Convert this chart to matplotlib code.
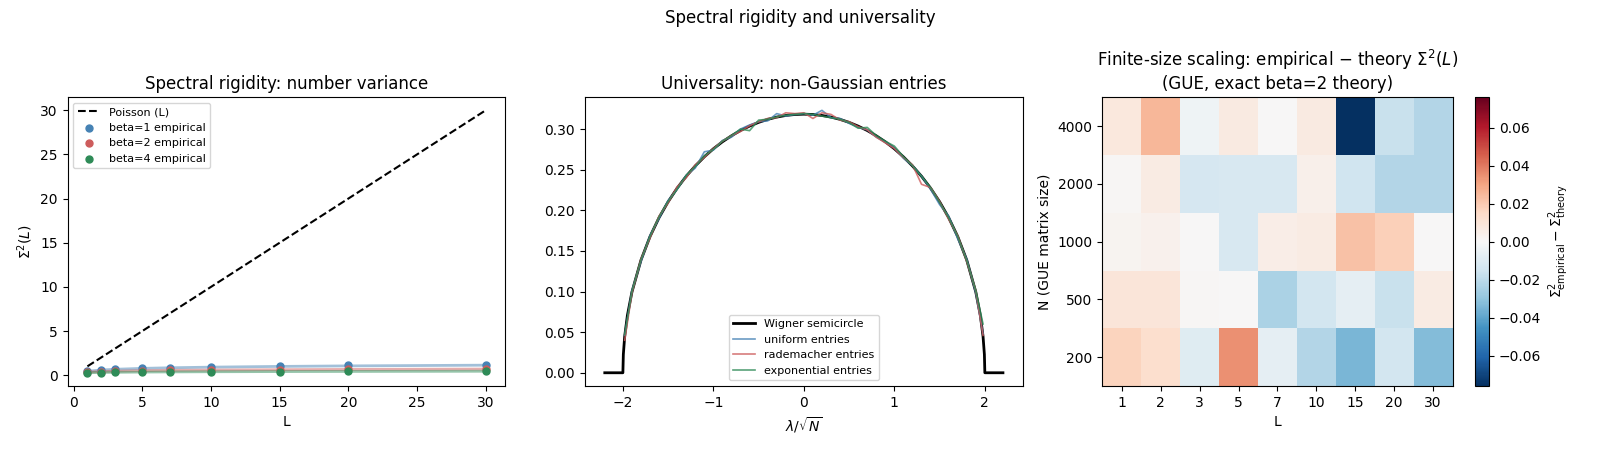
import matplotlib.pyplot as plt
import numpy as np

# ---- panel 1: number variance ----
L_vals = [1, 2, 3, 5, 7, 10, 15, 20, 30]
poisson = [1, 2, 3, 5, 7, 10, 15, 20, 30]
theory_b1 = [0.442, 0.582, 0.665, 0.768, 0.836, 0.908, 0.991, 1.049, 1.131]
theory_b2 = [0.346, 0.416, 0.457, 0.509, 0.543, 0.579, 0.620, 0.649, 0.691]
theory_b4 = [0.271, 0.306, 0.326, 0.352, 0.369, 0.387, 0.408, 0.422, 0.443]
emp_b1 = [0.50, 0.55, 0.66, 0.78, 0.86, 0.96, 1.00, 1.12, 1.20]
emp_b2 = [0.36, 0.40, 0.44, 0.52, 0.55, 0.57, 0.63, 0.66, 0.70]
emp_b4 = [0.28, 0.30, 0.33, 0.36, 0.37, 0.39, 0.40, 0.42, 0.45]

# ---- panel 2: densities ----
x_sc = [-2.2, -2.0, -1.995, -1.98, -1.95, -1.9, -1.8, -1.7, -1.6, -1.5, -1.4, -1.3,
        -1.2, -1.1, -1.0, -0.9, -0.8, -0.7, -0.6, -0.5, -0.4, -0.3, -0.2, -0.1, 0.0,
        0.1, 0.2, 0.3, 0.4, 0.5, 0.6, 0.7, 0.8, 0.9, 1.0, 1.1, 1.2, 1.3, 1.4, 1.5,
        1.6, 1.7, 1.8, 1.9, 1.95, 1.98, 1.995, 2.0, 2.2]
semicircle = [0.0, 0.0, 0.0225, 0.0449, 0.0707, 0.0994, 0.1387, 0.1677, 0.1910, 0.2105,
              0.2273, 0.2419, 0.2546, 0.2658, 0.2757, 0.2843, 0.2917, 0.2982, 0.3036,
              0.3082, 0.3119, 0.3147, 0.3167, 0.3179, 0.3183,
              0.3179, 0.3167, 0.3147, 0.3119, 0.3082, 0.3036, 0.2982, 0.2917, 0.2843,
              0.2757, 0.2658, 0.2546, 0.2419, 0.2273, 0.2105, 0.1910, 0.1677, 0.1387,
              0.0994, 0.0707, 0.0449, 0.0225, 0.0, 0.0]

x_emp = [-1.98, -1.9, -1.8, -1.7, -1.6, -1.5, -1.4, -1.3, -1.2, -1.1, -1.0, -0.9, -0.8,
         -0.7, -0.6, -0.5, -0.4, -0.3, -0.2, -0.1, 0.0, 0.1, 0.2, 0.3, 0.4, 0.5, 0.6,
         0.7, 0.8, 0.9, 1.0, 1.1, 1.2, 1.3, 1.4, 1.5, 1.6, 1.7, 1.8, 1.9, 1.98]
dens_uniform = [0.046, 0.101, 0.137, 0.169, 0.190, 0.212, 0.226, 0.243, 0.252, 0.272,
                0.274, 0.286, 0.290, 0.300, 0.305, 0.309, 0.310, 0.319, 0.316, 0.318,
                0.319, 0.317, 0.323, 0.314, 0.313, 0.307, 0.302, 0.299, 0.290, 0.284,
                0.277, 0.264, 0.255, 0.242, 0.226, 0.207, 0.193, 0.165, 0.140, 0.098, 0.048]
dens_rademacher = [0.040, 0.098, 0.140, 0.166, 0.193, 0.209, 0.229, 0.240, 0.256, 0.265,
                   0.276, 0.285, 0.292, 0.297, 0.304, 0.309, 0.313, 0.314, 0.320, 0.319,
                   0.320, 0.313, 0.320, 0.318, 0.311, 0.309, 0.303, 0.299, 0.290, 0.283,
                   0.276, 0.265, 0.256, 0.232, 0.228, 0.211, 0.189, 0.169, 0.137, 0.101, 0.046]
dens_exponential = [0.047, 0.100, 0.139, 0.168, 0.192, 0.211, 0.226, 0.243, 0.254, 0.267,
                    0.275, 0.285, 0.292, 0.300, 0.298, 0.311, 0.312, 0.315, 0.317, 0.318,
                    0.319, 0.318, 0.316, 0.314, 0.312, 0.308, 0.301, 0.302, 0.292, 0.285,
                    0.279, 0.266, 0.255, 0.242, 0.228, 0.210, 0.191, 0.168, 0.138, 0.101, 0.060]

# ---- panel 3: finite-size heatmap ----
N_vals = [200, 500, 1000, 2000, 4000]
diff_grid = [
    [0.017, 0.013, -0.009, 0.035, -0.007, -0.022, -0.035, -0.014, -0.033],   # 200
    [0.009, 0.009, 0.001, 0.000, -0.024, -0.014, -0.007, -0.017, 0.006],     # 500
    [0.002, 0.003, 0.000, -0.012, 0.005, 0.006, 0.022, 0.018, 0.000],        # 1000
    [0.001, 0.006, -0.013, -0.012, -0.012, 0.004, -0.015, -0.022, -0.022],   # 2000
    [0.008, 0.025, -0.003, 0.007, 0.000, 0.007, -0.076, -0.017, -0.022],     # 4000
]

c_blue = "#4682b4"
c_red = "#cd5c5c"
c_green = "#2e8b57"

fig, axes = plt.subplots(1, 3, figsize=(16, 4.5))
fig.suptitle("Spectral rigidity and universality")

ax = axes[0]
ax.plot(L_vals, poisson, "k--", label="Poisson (L)")
for th, emp, col, b in [(theory_b1, emp_b1, c_blue, 1),
                        (theory_b2, emp_b2, c_red, 2),
                        (theory_b4, emp_b4, c_green, 4)]:
    ax.plot(L_vals, th, color=col, lw=2, alpha=0.5)
    ax.scatter(L_vals, emp, color=col, s=25, zorder=3, label=f"beta={b} empirical")
ax.set_xlabel("L")
ax.set_ylabel(r"$\Sigma^2(L)$")
ax.set_title("Spectral rigidity: number variance")
ax.legend(fontsize=8, loc="upper left")

ax = axes[1]
ax.plot(x_sc, semicircle, "k-", lw=2, label="Wigner semicircle")
ax.plot(x_emp, dens_uniform, color=c_blue, lw=1.2, alpha=0.8, label="uniform entries")
ax.plot(x_emp, dens_rademacher, color=c_red, lw=1.2, alpha=0.8, label="rademacher entries")
ax.plot(x_emp, dens_exponential, color=c_green, lw=1.2, alpha=0.8, label="exponential entries")
ax.set_xlabel(r"$\lambda/\sqrt{N}$")
ax.set_title("Universality: non-Gaussian entries")
ax.legend(fontsize=8, loc="lower center")

ax = axes[2]
grid = np.array(diff_grid)
vmax = np.abs(grid).max()
im = ax.imshow(grid, origin="lower", aspect="auto", cmap="RdBu_r", vmin=-vmax, vmax=vmax)
ax.set_xticks(range(len(L_vals)))
ax.set_xticklabels([str(v) for v in L_vals])
ax.set_yticks(range(len(N_vals)))
ax.set_yticklabels([str(v) for v in N_vals])
ax.set_xlabel("L")
ax.set_ylabel("N (GUE matrix size)")
ax.set_title("Finite-size scaling: empirical \u2212 theory $\\Sigma^2(L)$\n(GUE, exact beta=2 theory)")
cb = fig.colorbar(im, ax=ax)
cb.set_label(r"$\Sigma^2_{\mathrm{empirical}} - \Sigma^2_{\mathrm{theory}}$")

plt.tight_layout()
plt.savefig("out.png", dpi=100)
